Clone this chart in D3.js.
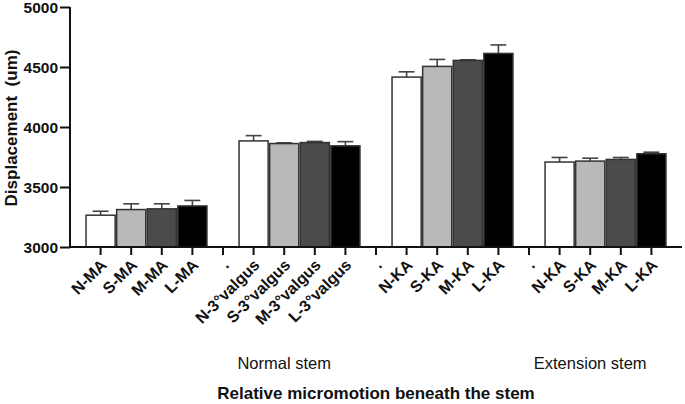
<!DOCTYPE html>
<html>
<head>
<meta charset="utf-8">
<script src="https://cdn.jsdelivr.net/npm/d3@7"></script>
<style>
  html, body { margin: 0; padding: 0; background: #fff; }
  svg { display: block; font-family: "Liberation Sans", Arial, sans-serif; }
</style>
</head>
<body>
<svg id="chart" width="685" height="404"></svg>
<script>
// ---- data ----
const labels = ["N-MA", "S-MA", "M-MA", "L-MA", ".",
                "N-3°valgus", "S-3°valgus", "M-3°valgus", "L-3°valgus", ".",
                "N-KA", "S-KA", "M-KA", "L-KA", ".",
                "N-KA", "S-KA", "M-KA", "L-KA"];
const means = [3265, 3312, 3318, 3342, null,
               3884, 3862, 3870, 3843, null,
               4416, 4505, 4555, 4613, null,
               3708, 3716, 3730, 3777];
const errTops = [3298, 3360, 3360, 3388, null,
                 3928, 3868, 3880, 3878, null,
                 4460, 4563, 4560, 4684, null,
                 3746, 3740, 3746, 3790];
const shades = ["N", "S", "M", "L", null,
                "N", "S", "M", "L", null,
                "N", "S", "M", "L", null,
                "N", "S", "M", "L"];
const yTicks = [3000, 3500, 4000, 4500, 5000];
const groupLabels = [
  { text: "Normal stem", slot: 6.5 },
  { text: "Extension stem", slot: 16.5 }
];
const yTitle = "Displacement  (um)";
const xTitle = "Relative micromotion beneath the stem";

// ---- layout ----
const svg = d3.select("#chart");
const mLeft = 70, mRight = 682, mTop = 7, mBottom = 247;
const fillColor = d3.scaleOrdinal().domain(["N", "S", "M", "L"])
  .range(["#ffffff", "#b9b9b9", "#4b4b4b", "#000000"]);

const x = d3.scaleBand().domain(d3.range(labels.length))
  .range([mLeft, mRight]).paddingInner(0).paddingOuter(0.5);
const y = d3.scaleLinear().domain([3000, 5000]).range([mBottom, mTop]);

const data = labels.map((l, i) => ({ i, l, v: means[i], e: errTops[i], s: shades[i] }))
  .filter(d => d.v != null);

// error bars (behind bars)
const eb = svg.append("g").attr("stroke", "#444").attr("stroke-width", 1.6);
const capW = x.bandwidth() * 0.26;
data.forEach(d => {
  const cx = x(d.i) + x.bandwidth() / 2;
  eb.append("line").attr("x1", cx).attr("x2", cx).attr("y1", y(d.v)).attr("y2", y(d.e));
  eb.append("line").attr("x1", cx - capW).attr("x2", cx + capW).attr("y1", y(d.e)).attr("y2", y(d.e));
});

// bars
svg.append("g").selectAll("rect").data(data).join("rect")
  .attr("x", d => x(d.i) + 0.75)
  .attr("width", x.bandwidth() - 1.5)
  .attr("y", d => y(d.v))
  .attr("height", d => y(3000) - y(d.v))
  .attr("fill", d => fillColor(d.s))
  .attr("stroke", "#333")
  .attr("stroke-width", 1.5);

// y axis
const yAxis = svg.append("g").attr("transform", `translate(${mLeft},0)`)
  .call(d3.axisLeft(y).tickValues(yTicks).tickSize(10).tickPadding(2).tickFormat(d3.format("d")));
yAxis.select(".domain").attr("stroke", "#111").attr("stroke-width", 2).attr("d", `M0,${mTop}V${mBottom}`);
yAxis.selectAll(".tick line").attr("stroke", "#111").attr("stroke-width", 2);
yAxis.selectAll(".tick text").attr("fill", "#111")
  .attr("font-size", 15.5).attr("font-weight", "bold").attr("dy", "0.36em");

// x axis
const xAxis = svg.append("g").attr("transform", `translate(0,${mBottom})`)
  .call(d3.axisBottom(x).tickSize(8).tickFormat(i => labels[i]));
xAxis.select(".domain").attr("stroke", "#111").attr("stroke-width", 2).attr("d", `M${mLeft},0H${mRight}`);
xAxis.selectAll(".tick line").attr("stroke", "#111").attr("stroke-width", 2);
xAxis.selectAll(".tick text")
  .attr("fill", "#111")
  .attr("font-size", 16).attr("font-weight", "bold")
  .attr("text-anchor", "end")
  .attr("dy", null)
  .attr("y", null)
  .attr("transform", "translate(7,19) rotate(-45)");

// group labels
svg.append("g").selectAll("text").data(groupLabels).join("text")
  .attr("x", d => mLeft + x.step() * (d.slot + 0.5))
  .attr("y", 369)
  .attr("text-anchor", "middle")
  .attr("fill", "#111")
  .attr("font-size", 16.5)
  .text(d => d.text);

// axis titles
svg.append("text")
  .attr("x", 376).attr("y", 399)
  .attr("text-anchor", "middle").attr("fill", "#111")
  .attr("font-size", 17).attr("font-weight", "bold")
  .text(xTitle);

svg.append("text")
  .attr("transform", "translate(16.5,128) rotate(-90)")
  .attr("text-anchor", "middle").attr("fill", "#111")
  .attr("font-size", 17).attr("font-weight", "bold")
  .style("white-space", "pre")
  .text(yTitle);
</script>
</body>
</html>
